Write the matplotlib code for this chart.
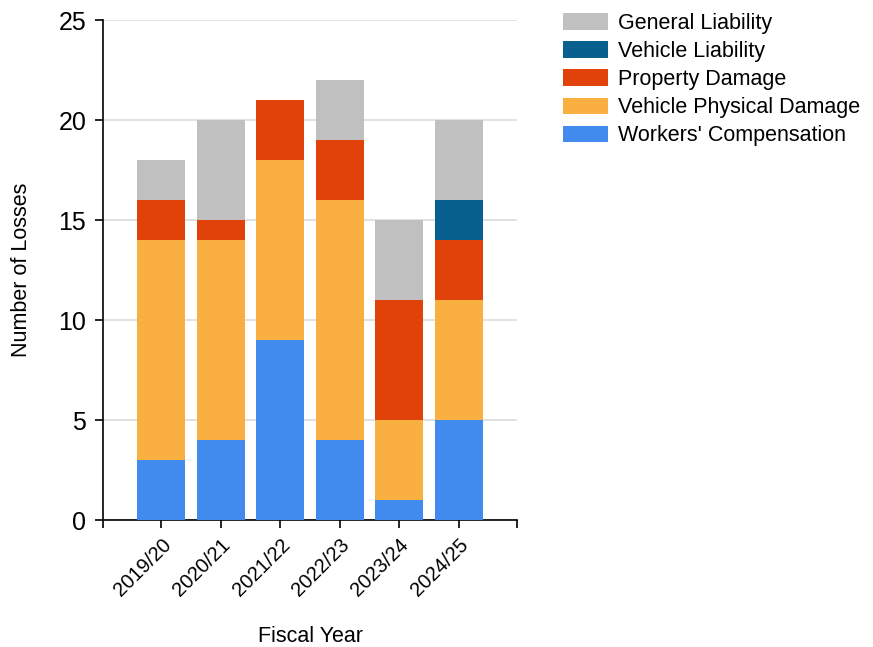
import numpy as np
import matplotlib.pyplot as plt

plt.rcParams['font.family'] = ['Liberation Sans', 'DejaVu Sans']

# loss counts per fiscal year, stacked bottom to top
years = ['2019/20', '2020/21', '2021/22', '2022/23', '2023/24', '2024/25']
workers_comp = [3, 4, 9, 4, 1, 5]
vehicle_phys = [11, 10, 9, 12, 4, 6]
property_dmg = [2, 1, 3, 3, 6, 3]
vehicle_liab = [0, 0, 0, 0, 0, 2]
general_liab = [2, 5, 0, 3, 4, 4]

series = [
    ("Workers' Compensation", workers_comp, '#418BEE'),
    ('Vehicle Physical Damage', vehicle_phys, '#F9B040'),
    ('Property Damage', property_dmg, '#E0420A'),
    ('Vehicle Liability', vehicle_liab, '#08608F'),
    ('General Liability', general_liab, '#C0C0C0'),
]

fig = plt.figure(figsize=(8.73, 6.47), dpi=100)
ax = fig.add_axes([103 / 873, 1 - 520 / 647, 414 / 873, 500 / 647])

x = np.arange(len(years))
bottom = np.zeros(len(years))
handles = []
for name, vals, col in series:
    vals = np.array(vals, dtype=float)
    b = ax.bar(x, vals, 0.81, bottom=bottom, color=col, linewidth=0,
               label=name, zorder=3)
    handles.append(b)
    bottom += vals

ax.set_xlim(-0.98, 5.98)
ax.set_ylim(0, 25)
ax.set_yticks([0, 5, 10, 15, 20, 25])
ax.yaxis.grid(True, color='#DCDCDC', linewidth=1.2, zorder=0)
ax.set_axisbelow(True)

# extra unlabelled ticks mark both ends of the category axis
ax.set_xticks(list(x) + [-0.98, 5.98])
ax.set_xticklabels(years + ['', ''], rotation=45, ha='right',
                   rotation_mode='anchor', fontsize=14.5)
ax.tick_params(axis='x', length=6, width=1.2, color='black', pad=5)
ax.tick_params(axis='y', length=6, width=1.2, color='black', labelsize=18, pad=6)

for s in ['top', 'right']:
    ax.spines[s].set_visible(False)
for s in ['left', 'bottom']:
    ax.spines[s].set_linewidth(1.2)

ax.set_ylabel('Number of Losses', fontsize=15.5)
ax.yaxis.set_label_coords(-0.172, 0.5)
ax.set_xlabel('Fiscal Year', fontsize=15.5)
ax.xaxis.set_label_coords(0.5, -0.212)

fig.legend(handles[::-1], [s[0] for s in series][::-1],
           loc='upper left', bbox_to_anchor=(563 / 873, 1 - 13 / 647),
           frameon=False, fontsize=15.5, handlelength=2.1, handleheight=0.8,
           handletextpad=0.47, labelspacing=0.33, borderpad=0, borderaxespad=0)

fig.savefig('out.png', dpi=100)
